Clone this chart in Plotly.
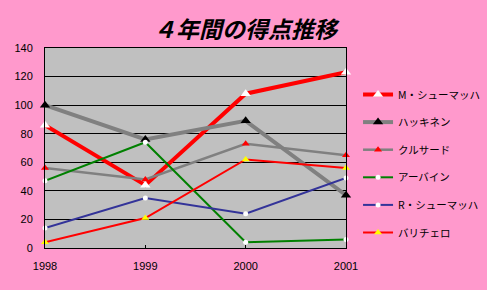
import plotly.graph_objects as go

years = [1998, 1999, 2000, 2001]
drivers = ["M・シューマッハ", "ハッキネン", "クルサード", "アーバイン", "R・シューマッハ", "バリチェロ"]
m_schumacher = [86, 44, 108, 123]
hakkinen = [100, 76, 89, 37]
coulthard = [56, 48, 73, 65]
irvine = [47, 74, 4, 6]
r_schumacher = [14, 35, 24, 49]
barrichello = [4, 21, 62, 56]
values = [m_schumacher, hakkinen, coulthard, irvine, r_schumacher, barrichello]
y_ticks = [0, 20, 40, 60, 80, 100, 120, 140]

styles = [
    dict(color="#FF0000", width=4, symbol="triangle-up", msize=9, mcolor="#FFFFFF"),
    dict(color="#808080", width=4, symbol="triangle-up", msize=9, mcolor="#000000"),
    dict(color="#808080", width=2.5, symbol="triangle-up", msize=7, mcolor="#FF0000"),
    dict(color="#008000", width=2, symbol="circle", msize=5, mcolor="#FFFFFF"),
    dict(color="#333399", width=2, symbol="circle", msize=5, mcolor="#FFFFFF"),
    dict(color="#FF0000", width=2, symbol="triangle-up", msize=7, mcolor="#FFFF00"),
]

fig = go.Figure()
for i, (name, vals, st) in enumerate(zip(drivers, values, styles)):
    fig.add_trace(go.Scatter(
        x=years, y=vals, name=name, mode="lines+markers",
        legendgroup=f"g{i}",
        line=dict(color=st["color"], width=st["width"]),
        marker=dict(symbol=st["symbol"], size=st["msize"], color=st["mcolor"],
                    line=dict(width=0)),
        cliponaxis=False,
    ))

fig.update_layout(
    width=487, height=290,
    margin=dict(l=45, r=141, t=48, b=42, autoexpand=False),
    paper_bgcolor="#FF99CC",
    plot_bgcolor="#C0C0C0",
    title=dict(text="４年間の得点推移", x=0.503, xanchor="center", y=0.897, yanchor="middle",
               font=dict(family="Noto Sans CJK JP", size=23, color="#000000",
                         style="italic", weight="bold")),
    font=dict(family="Liberation Sans, Arial", size=11, color="#000000"),
    legend=dict(x=1.04, y=0.84, xanchor="left", yanchor="top",
                bgcolor="rgba(0,0,0,0)", traceorder="grouped", tracegroupgap=8.6,
                font=dict(family="Noto Sans CJK JP", size=10.5, color="#000000"),
                itemwidth=30),
    showlegend=True,
)
fig.update_xaxes(
    range=[1998, 2001], tickvals=years, ticktext=[str(y) for y in years],
    showgrid=False, zeroline=False, showline=True, linecolor="#000000", linewidth=1,
    mirror=True, ticks="inside", ticklen=3, tickcolor="#000000",
    ticklabelstandoff=8,
    tickfont=dict(family="Liberation Sans, Arial", size=11),
)
fig.update_yaxes(
    range=[0, 140], tickvals=y_ticks, showgrid=True, gridcolor="#000000", gridwidth=1,
    zeroline=False, showline=True, linecolor="#000000", linewidth=1, mirror=True,
    ticks="", ticklabelstandoff=9,
    tickfont=dict(family="Liberation Sans, Arial", size=11),
)

fig.write_html("out.html")
